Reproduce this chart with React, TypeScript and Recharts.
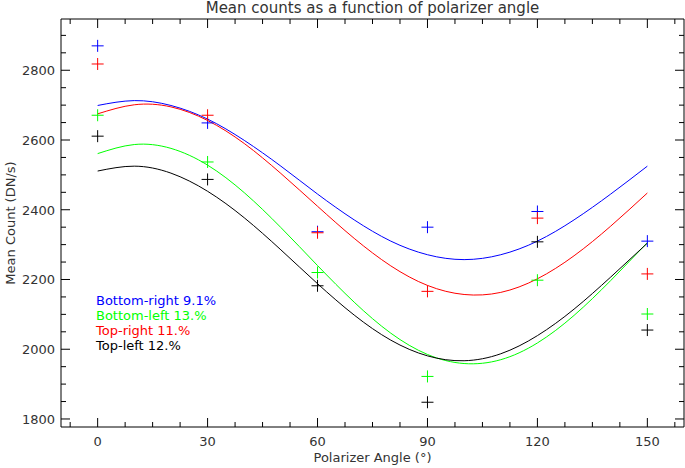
import React from 'react';
import { ComposedChart, Line, Scatter, XAxis, YAxis } from 'recharts';

// measured angles (deg) and mean counts per quadrant
const angles = [0, 30, 60, 90, 120, 150];
const bottomRight = [2870, 2649, 2337, 2350, 2395, 2310];
const bottomLeft = [2671, 2537, 2220, 1922, 2198, 2101];
const topRight = [2818, 2671, 2334, 2166, 2376, 2216];
const topLeft = [2611, 2487, 2182, 1848, 2308, 2055];

const fitAngles = [0, 10, 20, 30, 40, 50, 60, 70, 80, 90, 100, 110, 120, 130, 140, 150];
const fitBottomRight = [2699, 2713, 2699, 2660, 2599, 2525, 2445, 2371, 2310, 2271, 2257, 2271, 2310, 2371, 2445, 2525];
const fitBottomLeft = [2561, 2587, 2576, 2528, 2449, 2349, 2240, 2135, 2046, 1985, 1959, 1970, 2018, 2097, 2197, 2306];
const fitTopRight = [2675, 2701, 2695, 2656, 2590, 2504, 2410, 2318, 2239, 2183, 2157, 2163, 2202, 2268, 2353, 2448];
const fitTopLeft = [2511, 2525, 2505, 2453, 2377, 2285, 2188, 2098, 2026, 1981, 1967, 1987, 2039, 2115, 2207, 2304];

const xLabels = [0, 30, 60, 90, 120, 150];
const xTicks = [-7.5, 0, 7.5, 15, 22.5, 30, 37.5, 45, 52.5, 60, 67.5, 75, 82.5, 90, 97.5, 105, 112.5, 120, 127.5, 135, 142.5, 150, 157.5];
const yLabels = [1800, 2000, 2200, 2400, 2600, 2800];
const yTicks = [1800, 1850, 1900, 1950, 2000, 2050, 2100, 2150, 2200, 2250, 2300, 2350, 2400, 2450, 2500, 2550, 2600, 2650, 2700, 2750, 2800, 2850, 2900];

const series = [
  { name: 'Bottom-right 9.1%', color: '#0000ff', pts: bottomRight, fit: fitBottomRight },
  { name: 'Bottom-left 13.%', color: '#00ff00', pts: bottomLeft, fit: fitBottomLeft },
  { name: 'Top-right 11.%', color: '#ff0000', pts: topRight, fit: fitTopRight },
  { name: 'Top-left 12.%', color: '#000000', pts: topLeft, fit: fitTopLeft },
];

const FONT = '"DejaVu Sans", sans-serif';
const TXT = '#333';

const Plus = (props: any) => {
  const { cx, cy, fill } = props;
  if (cx == null || cy == null) return null;
  return (
    <g stroke={fill} strokeWidth={1}>
      <line x1={cx - 6} x2={cx + 6} y1={cy} y2={cy} />
      <line x1={cx} x2={cx} y1={cy - 6} y2={cy + 6} />
    </g>
  );
};

const tickFor = (side: 'left' | 'right' | 'top' | 'bottom', labels: number[]) => (props: any) => {
  const { x, y, payload } = props;
  const major = labels.includes(payload.value);
  const len = major ? 9 : 5;
  if (side === 'left') {
    return (
      <g>
        <line x1={x} x2={x + len} y1={y} y2={y} stroke="#000" />
        {major && (
          <text x={x - 6} y={y + 5} textAnchor="end" fontSize={13} fontFamily={FONT} fill={TXT}>
            {payload.value}
          </text>
        )}
      </g>
    );
  }
  if (side === 'right') return <line x1={x} x2={x - len} y1={y} y2={y} stroke="#000" />;
  if (side === 'top') return <line x1={x} x2={x} y1={y} y2={y + len} stroke="#000" />;
  return (
    <g>
      <line x1={x} x2={x} y1={y} y2={y - len} stroke="#000" />
      {major && (
        <text x={x} y={y + 19} textAnchor="middle" fontSize={13} fontFamily={FONT} fill={TXT}>
          {payload.value}
        </text>
      )}
    </g>
  );
};

export default function App() {
  return (
    <div style={{ position: 'absolute', left: 0, top: 0, width: 685, height: 468, background: '#fff', fontFamily: FONT }}>
      <div style={{ position: 'absolute', left: 61, width: 623, top: 0, textAlign: 'center', fontSize: 15, color: TXT, lineHeight: '17px' }}>
        Mean counts as a function of polarizer angle
      </div>
      <ComposedChart width={685} height={468} margin={{ top: 18, right: 0, bottom: 0, left: 0 }}>
        <XAxis xAxisId="b" type="number" dataKey="x" domain={[-10, 160]} ticks={xTicks} interval={0}
          allowDataOverflow tickLine={false} tickSize={0} tickMargin={0} height={41} stroke="#000"
          tick={tickFor('bottom', xLabels)} />
        <XAxis xAxisId="t" orientation="top" type="number" dataKey="x" domain={[-10, 160]} ticks={xTicks} interval={0}
          allowDataOverflow tickLine={false} tickSize={0} tickMargin={0} height={1} stroke="#000"
          tick={tickFor('top', xLabels)} />
        <YAxis yAxisId="l" type="number" domain={[1777, 2947]} ticks={yTicks} interval={0}
          allowDataOverflow tickLine={false} tickSize={0} tickMargin={0} width={61} stroke="#000"
          tick={tickFor('left', yLabels)} />
        <YAxis yAxisId="r" orientation="right" type="number" domain={[1777, 2947]} ticks={yTicks} interval={0}
          allowDataOverflow tickLine={false} tickSize={0} tickMargin={0} width={1} stroke="#000"
          tick={tickFor('right', yLabels)} />
        {series.map((s) => (
          <Line key={'f' + s.name} xAxisId="b" yAxisId="l" type="natural" dataKey="y"
            data={fitAngles.map((a, i) => ({ x: a, y: s.fit[i] }))}
            stroke={s.color} strokeWidth={1} dot={false} activeDot={false} isAnimationActive={false} />
        ))}
        {series.map((s) => (
          <Scatter key={'p' + s.name} xAxisId="b" yAxisId="l" dataKey="y"
            data={angles.map((a, i) => ({ x: a, y: s.pts[i] }))}
            fill={s.color} shape={<Plus />} isAnimationActive={false} />
        ))}
      </ComposedChart>
      <div style={{ position: 'absolute', left: 3, top: 223, width: 0, height: 0 }}>
        <div style={{ position: 'absolute', left: -80, top: -8, width: 160, textAlign: 'center', fontSize: 13, lineHeight: '16px', color: TXT, transform: 'rotate(-90deg) translateY(8px)', transformOrigin: '50% 50%', whiteSpace: 'nowrap' }}>
          Mean Count (DN/s)
        </div>
      </div>
      <div style={{ position: 'absolute', left: 61, width: 623, top: 450, textAlign: 'center', fontSize: 13, color: TXT }}>
        Polarizer Angle (°)
      </div>
      <div style={{ position: 'absolute', left: 96, top: 294, fontSize: 13, lineHeight: '14.9px' }}>
        {series.map((s) => (
          <div key={s.name} style={{ color: s.color }}>{s.name}</div>
        ))}
      </div>
    </div>
  );
}
